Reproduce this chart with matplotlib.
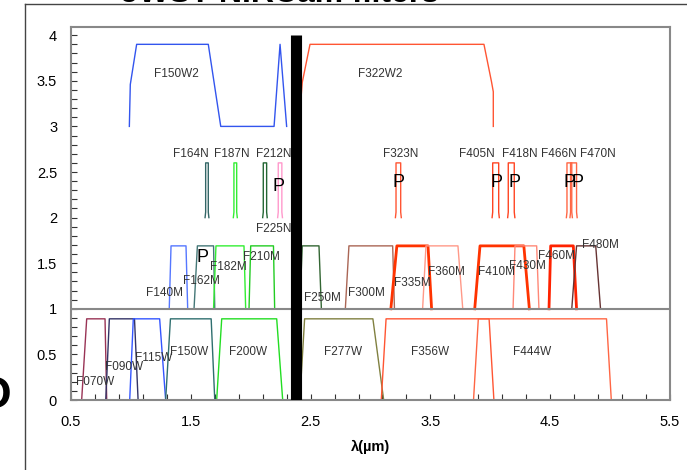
import matplotlib
matplotlib.use("Agg")
import matplotlib.pyplot as plt
from matplotlib.lines import Line2D
import numpy as np

plt.rcParams['font.family'] = ['Liberation Sans', 'DejaVu Sans']

# ---- filter data (wavelengths in micron) ----
# wide filters, offset 0: [bottom-left, top-left, top-right, bottom-right]
wide_names = ['F070W', 'F090W', 'F115W', 'F150W', 'F200W', 'F277W', 'F356W', 'F444W']
wide_edges = [[0.589, 0.631, 0.784, 0.798],
              [0.79, 0.82, 1.03, 1.06],
              [0.99, 1.02, 1.24, 1.29],
              [1.29, 1.33, 1.67, 1.70],
              [1.716, 1.758, 2.217, 2.267],
              [2.41, 2.45, 3.02, 3.11],
              [3.09, 3.13, 3.99, 4.03],
              [3.86, 3.90, 4.97, 5.01]]
wide_top = 0.89

# medium filters, offset 1
med_names = ['F140M', 'F162M', 'F182M', 'F210M', 'F250M', 'F300M',
             'F335M', 'F360M', 'F410M', 'F430M', 'F460M', 'F480M']
med_edges = [[1.32, 1.335, 1.46, 1.474],
             [1.527, 1.555, 1.69, 1.70],
             [1.69, 1.71, 1.944, 1.958],
             [1.986, 2.0, 2.19, 2.20],
             [2.41, 2.43, 2.57, 2.59],
             [2.79, 2.82, 3.185, 3.20],
             [3.17, 3.22, 3.48, 3.51],
             [3.435, 3.463, 3.73, 3.77],
             [3.87, 3.914, 4.28, 4.326],
             [4.19, 4.206, 4.387, 4.406],
             [4.49, 4.504, 4.693, 4.72],
             [4.68, 4.72, 4.88, 4.92]]
med_top = 0.69

# narrow filters, offset 2: [low, high]
nar_names = ['F164N', 'F187N', 'F212N', 'F225N', 'F323N',
             'F405N', 'F418N', 'F466N', 'F470N']
nar_edges = [[1.624, 1.646], [1.86, 1.883], [2.105, 2.133], [2.23, 2.26],
             [3.213, 3.252], [4.02, 4.07], [4.15, 4.20], [4.64, 4.68], [4.67, 4.72]]
nar_top = 0.6

# extra-wide filters, offset 3
f150w2_wave = [0.987, 0.995, 1.048, 1.646, 1.75, 2.195, 2.245, 2.30]
f150w2_trans = [0.0, 0.46, 0.9, 0.9, 0.0, 0.0, 0.9, 0.0]
f322w2_wave = [2.40, 2.42, 2.43, 2.495, 3.947, 4.01, 4.025, 4.025]
f322w2_trans = [0.0, 0.31, 0.48, 0.9, 0.9, 0.49, 0.38, 0.0]

# filters sitting in the pupil wheel (marked "P")
pupil_names = ['F162M', 'F225N', 'F323N', 'F405N', 'F418N', 'F466N', 'F470N']

# ---- styles ----
wide_colors = ['#993355', '#333366', '#3355ff', '#2f6f6f', '#22dd22', '#808040', '#ff5533', '#ff6644']
med_colors = ['#5577ff', '#447777', '#33ee33', '#22cc22', '#336633', '#aa6655',
              '#ff3300', '#ff9988', '#ff3300', '#ff8877', '#ff2200', '#663333']
med_lw = [1, 1, 1, 1, 1, 1, 2, 1, 2, 1, 2, 1]
nar_colors = ['#336666', '#33ee33', '#226633', '#ff99cc', '#ff5533',
              '#ff4422', '#ff4422', '#ff6644', '#ff6644']

wide_lab = [(0.70, 0.20), (0.94, 0.36), (1.19, 0.46), (1.485, 0.53), (1.98, 0.53),
            (2.77, 0.53), (3.50, 0.53), (4.35, 0.53)]
med_lab = [(1.28, 1.17), (1.59, 1.30), (1.81, 1.46), (2.09, 1.57), (2.60, 1.12), (2.97, 1.17),
           (3.35, 1.28), (3.63, 1.40), (4.05, 1.40), (4.31, 1.47), (4.55, 1.58), (4.92, 1.70)]
nar_lab = [(1.50, 2.70), (1.84, 2.70), (2.19, 2.70), (2.19, 1.88), (3.25, 2.70),
           (3.886, 2.70), (4.25, 2.70), (4.576, 2.70), (4.90, 2.70)]
pupil_pos = [(1.60, 1.56), (2.23, 2.34), (3.23, 2.38), (4.05, 2.38), (4.206, 2.38),
             (4.66, 2.38), (4.73, 2.38)]

fig = plt.figure(figsize=(6.87, 4.70), dpi=100)
ax = fig.add_axes([71 / 687, 70 / 470, 599 / 687, 373 / 470])

lab_kw = dict(fontsize=8.5, color='#333333', ha='center', va='center')

def trapezoid(e, top, offset):
    return [e[0], e[1], e[2], e[3]], [offset, offset + top, offset + top, offset]

for name, e, c, (lx, ly) in zip(wide_names, wide_edges, wide_colors, wide_lab):
    x, y = trapezoid(e, wide_top, 0)
    ax.plot(x, y, color=c, lw=1)
    ax.text(lx, ly, name, **lab_kw)

for name, e, c, w, (lx, ly) in zip(med_names, med_edges, med_colors, med_lw, med_lab):
    x, y = trapezoid(e, med_top, 1)
    ax.plot(x, y, color=c, lw=w)
    ax.text(lx, ly, name, **lab_kw)

for name, e, c, (lx, ly) in zip(nar_names, nar_edges, nar_colors, nar_lab):
    x = [e[0] - 0.005, e[0], e[0], e[1], e[1], e[1] + 0.005]
    y = [2, 2.06, 2 + nar_top, 2 + nar_top, 2.06, 2]
    ax.plot(x, y, color=c, lw=1)
    ax.text(lx, ly, name, **lab_kw)

ax.plot(f150w2_wave, np.array(f150w2_trans) + 3, color='#3355ee', lw=1)
ax.plot(f322w2_wave, np.array(f322w2_trans) + 3, color='#ff5533', lw=1)
ax.text(1.38, 3.57, 'F150W2', **lab_kw)
ax.text(3.08, 3.58, 'F322W2', **lab_kw)

for px, py in pupil_pos:
    ax.text(px, py, 'P', fontsize=13, color='black', ha='center', va='center')

# offset separator and the dichroic split
ax.axhline(1, color='#888888', lw=1.5, zorder=3)
ax.plot([2.375, 2.375], [0, 4.0], color='black', lw=8, solid_capstyle='butt', zorder=5)

ax.set_xlim(0.5, 5.5)
ax.set_ylim(0, 4.09)
ax.set_xticks(np.arange(0.5, 5.6, 1.0))
ax.set_xticklabels(['0.5', '1.5', '2.5', '3.5', '4.5', '5.5'])
ax.set_xticks(np.arange(0.5, 5.51, 0.2), minor=True)
ax.set_yticks(np.arange(0, 4.01, 0.5))
ax.set_yticklabels(['0', '0.5', '1', '1.5', '2', '2.5', '3', '3.5', '4'])
ax.set_yticks(np.arange(0, 4.01, 0.1), minor=True)
ax.tick_params(which='both', direction='in', length=4, color='#333333', width=0.8)
ax.tick_params(axis='x', which='both', top=False, pad=11, labelsize=10.5)
ax.tick_params(axis='y', which='both', right=False, pad=10, labelsize=10.5)
for s in ax.spines.values():
    s.set_color('#888888')
    s.set_linewidth(1.5)
ax.set_xlabel('λ(µm)', fontsize=10.5, fontweight='bold', labelpad=8)

# outer chart frame and clipped bits of surrounding text
fig.add_artist(Line2D([25 / 687, 25 / 687], [0, 1 - 4 / 470], color='#444444', lw=1))
fig.add_artist(Line2D([25 / 687, 1], [1 - 4 / 470, 1 - 4 / 470], color='#444444', lw=1))
fig.text(280 / 687, 1 - 2.5 / 470, 'JWST NIRCam filters', fontsize=23, fontweight='bold',
         ha='center', va='baseline')
fig.text(11 / 687, 1 - 397 / 470, 'O', fontsize=32, fontweight='bold', ha='right', va='center')

fig.savefig('out.png', dpi=100)
